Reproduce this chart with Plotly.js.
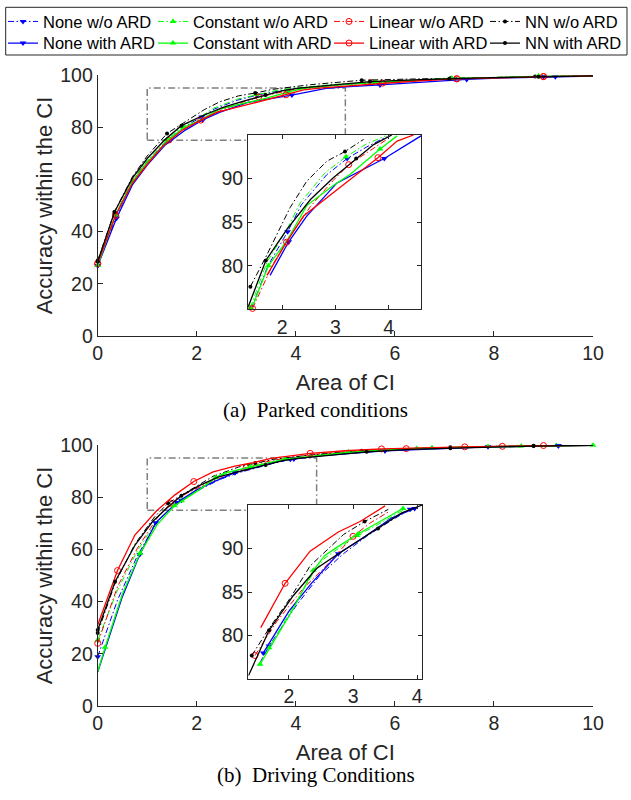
<!DOCTYPE html>
<html><head><meta charset="utf-8">
<script src="https://cdn.plot.ly/plotly-3.0.1.min.js"></script>
<style>html,body{margin:0;padding:0;background:#fff}#chart{width:631px;height:800px}</style>
</head><body><div id="chart"></div>
<script>
// ---------- labels & ticks ----------
const seriesNames = ['None w/o ARD','Constant w/o ARD','Linear w/o ARD','NN w/o ARD',
                     'None with ARD','Constant with ARD','Linear with ARD','NN with ARD'];
const xTicks = [0,2,4,6,8,10];
const yTicks = [0,20,40,60,80,100];
const insetXTicks = [2,3,4];
const insetYTicks = [80,85,90];
const xTitle = 'Area of CI';
const yTitle = 'Accuracy within the CI';
const captionA = '(a)\u00A0\u00A0Parked conditions';
const captionB = '(b)\u00A0\u00A0Driving Conditions';

// ---------- (a) Parked conditions ----------
const parkedNoneWoX = [0,0.37,0.7,1.0,1.42,1.73,2.1,2.36,2.83,3.22,3.58,3.96,4.75,5.65,6.5,7.2,8.0,9.0,10];
const parkedNoneWoY = [27.0,45.5,59.3,66.8,75.1,80.0,83.9,87.0,90.4,92.3,93.6,94.8,96.2,97.0,97.9,98.6,99.0,99.4,99.7];
const parkedNoneWoM = [0,1,6,9,13,15,17];

const parkedConstWoX = [0,0.36,0.7,1.0,1.40,1.71,2.09,2.34,2.81,3.20,3.56,3.94,4.7,5.6,6.5,7.15,8.0,8.9,10];
const parkedConstWoY = [27.2,46.4,59.8,67.2,75.2,80.4,84.2,87.25,90.7,92.5,93.9,94.9,96.3,97.3,98.0,98.8,99.1,99.5,99.7];
const parkedConstWoM = [0,1,4,9,13,15,17];

const parkedLinWoX = [0,0.36,0.7,1.0,1.44,1.81,2.09,2.53,2.96,3.25,3.6,3.97,4.8,5.53,6.5,7.25,8.0,9.0,10];
const parkedLinWoY = [27.8,46.5,59.5,66.8,75.1,80.0,82.9,86.8,89.8,91.6,93.0,94.5,96.1,97.1,97.9,98.6,99.0,99.4,99.7];
const parkedLinWoM = [0,1,4,9,13,15,17];

const parkedNNWoX = [0,0.34,0.7,1.0,1.40,1.69,2.15,2.46,2.84,3.18,3.53,4.3,5.33,6.2,7.12,8.0,8.83,10];
const parkedNNWoY = [28.9,47.6,61.0,69.0,77.6,81.0,86.7,89.7,92.0,93.1,94.5,96.3,98.0,98.4,98.8,99.1,99.4,99.7];
const parkedNNWoM = [0,1,4,9,12,14,16];

const parkedNoneWithX = [0,0.38,0.7,1.0,1.35,1.77,2.12,2.46,3.03,3.92,4.61,5.0,5.7,6.5,7.45,8.2,9.24,10];
const parkedNoneWithY = [26.9,45.1,57.9,65.5,73.0,78.9,82.75,85.7,89.5,92.3,94.9,95.5,96.2,97.2,98.3,98.9,99.3,99.6];
const parkedNoneWithM = [0,1,6,9,12,14,16];

const parkedConstWithX = [0,0.36,0.7,1.0,1.45,1.74,2.09,2.46,2.96,3.28,3.84,4.16,4.9,5.6,6.5,7.15,8.0,8.9,10];
const parkedConstWithY = [27.0,46.4,59.0,66.5,75.5,80.0,82.9,86.9,89.2,90.5,93.4,94.9,96.2,97.2,98.0,98.7,99.0,99.5,99.7];
const parkedConstWithM = [0,1,5,10,13,15,17];

const parkedLinWithX = [0,0.36,0.7,1.0,1.3,1.71,2.08,2.40,3.1,3.8,4.16,4.47,5.0,5.75,6.5,7.25,8.0,9.0,10];
const parkedLinWithY = [27.8,46.2,58.5,65.8,72.5,78.9,82.7,85.7,89.0,92.4,94.3,95.0,95.8,96.9,97.8,98.5,99.0,99.4,99.7];
const parkedLinWithM = [0,1,6,9,13,15,17];

const parkedNNWithX = [0,0.34,0.7,1.0,1.36,1.69,2.09,2.53,2.96,3.39,3.72,4.06,4.8,5.5,6.5,7.1,8.0,8.9,10];
const parkedNNWithY = [28.5,47.5,60.5,68.0,75.3,80.6,84.2,87.6,90.1,92.3,93.9,95.0,96.4,97.5,98.2,98.6,99.0,99.3,99.7];
const parkedNNWithM = [0,1,5,9,13,15,17];

// ---------- (b) Driving Conditions ----------
const drivingNoneWoX = [0,0.4,0.8,1.2,1.55,1.69,2.12,2.48,2.85,3.21,3.57,3.89,4.67,5.8,7.05,7.88,9.3,10];
const drivingNoneWoY = [18.9,40.6,57.5,70.8,76.9,78.8,83.5,86.9,89.4,91.4,93.1,94.5,96.2,97.9,98.9,99.3,99.7,99.9];
const drivingNoneWoM = [0,5,11,13,15,16];

const drivingConstWoX = [0,0.4,0.8,1.2,1.52,1.69,2.07,2.38,2.56,3.06,3.4,3.78,4.2,5.06,5.8,6.44,7.17,7.88,8.55,9.26,10];
const drivingConstWoY = [25.3,44.4,59.5,71.0,76.5,78.6,83.3,87.2,88.9,91.5,92.8,94.4,95.6,97.3,98.2,98.7,99.1,99.4,99.6,99.8,99.9];
const drivingConstWoM = [0,5,9,13,15,17,19];

const drivingLinWoX = [0,0.4,0.8,1.2,1.47,1.81,2.22,2.54,3.0,3.26,3.55,4.3,5.0,5.73,6.23,7.41,8.17,8.89,10];
const drivingLinWoY = [24.0,45.7,60.4,72.0,77.7,81.6,85.4,87.7,91.4,92.9,94.2,96.3,97.4,98.2,98.6,99.2,99.5,99.7,99.9];
const drivingLinWoM = [0,4,8,14,16];

const drivingNNWoX = [0,0.35,0.75,1.15,1.42,1.68,2.02,2.33,2.85,3.18,3.55,4.3,5.33,6.2,7.12,8.0,8.8,10];
const drivingNNWoY = [28.0,47.0,62.0,72.5,77.7,80.7,84.3,88.0,91.6,93.1,94.5,96.2,97.8,98.6,99.1,99.5,99.7,99.9];
const drivingNNWoM = [0,4,9,12,14,16];

const drivingNoneWithX = [0,0.15,0.5,0.85,1.17,1.6,2.0,2.35,2.77,3.13,3.60,3.96,4.5,5.8,7.05,7.88,9.3,10];
const drivingNoneWithY = [13.0,21.5,42.0,58.0,70.2,78.0,82.8,86.0,89.4,91.1,93.5,94.6,95.9,97.8,98.8,99.3,99.7,99.9];
const drivingNoneWithM = [3,4,5,8,11,13,16];

const drivingConstWithX = [0,0.15,0.5,0.855,1.2,1.55,1.69,2.07,2.38,2.56,2.74,3.08,3.37,3.78,4.1,5.06,6.0,6.75,7.5,8.55,9.3,10];
const drivingConstWithY = [13.2,22.5,43.0,58.5,69.5,76.7,78.4,83.1,87.5,89.2,90.1,91.7,92.9,94.6,95.2,97.2,98.3,98.9,99.2,99.6,99.8,99.9];
const drivingConstWithM = [1,3,5,8,11,13,15,17,19,21];

const drivingLinWithX = [0,0.40,0.75,1.19,1.56,1.94,2.33,2.77,3.11,3.50,4.29,5.0,5.73,6.6,7.41,8.3,9.0,10];
const drivingLinWithY = [31.0,51.9,65.5,74.8,80.9,86.0,89.7,91.9,93.1,94.9,96.8,97.8,98.5,99.0,99.3,99.6,99.8,99.9];
const drivingLinWithM = [1,5,10,12,14,16];

const drivingNNWithX = [0,0.35,0.75,1.1,1.37,1.69,2.07,2.43,2.77,3.39,3.76,4.08,4.7,5.43,6.3,7.12,8.0,8.8,10];
const drivingNNWithY = [29.1,47.6,61.5,70.5,75.4,80.6,84.6,87.7,89.4,92.3,94.1,95.0,96.2,97.4,98.3,98.8,99.3,99.6,99.9];
const drivingNNWithM = [0,1,5,9,13,15,17];

// ---------- styles ----------
const DD = '6px,2.5px,1.5px,2.5px';
const styles = [
  {color:'#0000ff', dash:DD, w:1, symbol:'triangle-down', size:6},
  {color:'#00ff00', dash:DD, w:1, symbol:'triangle-up', size:6},
  {color:'#ff0000', dash:DD, w:1, symbol:'circle-open', size:6},
  {color:'#000000', dash:DD, w:1, symbol:'circle', size:4},
  {color:'#0000ff', dash:'solid', w:1.3, symbol:'triangle-down', size:6},
  {color:'#00ff00', dash:'solid', w:1.3, symbol:'triangle-up', size:6},
  {color:'#ff0000', dash:'solid', w:1.3, symbol:'circle-open', size:6},
  {color:'#000000', dash:'solid', w:1.3, symbol:'circle', size:4}
];
const parked = [
  [parkedNoneWoX,parkedNoneWoY,parkedNoneWoM],[parkedConstWoX,parkedConstWoY,parkedConstWoM],
  [parkedLinWoX,parkedLinWoY,parkedLinWoM],[parkedNNWoX,parkedNNWoY,parkedNNWoM],
  [parkedNoneWithX,parkedNoneWithY,parkedNoneWithM],[parkedConstWithX,parkedConstWithY,parkedConstWithM],
  [parkedLinWithX,parkedLinWithY,parkedLinWithM],[parkedNNWithX,parkedNNWithY,parkedNNWithM]
];
const driving = [
  [drivingNoneWoX,drivingNoneWoY,drivingNoneWoM],[drivingConstWoX,drivingConstWoY,drivingConstWoM],
  [drivingLinWoX,drivingLinWoY,drivingLinWoM],[drivingNNWoX,drivingNNWoY,drivingNNWoM],
  [drivingNoneWithX,drivingNoneWithY,drivingNoneWithM],[drivingConstWithX,drivingConstWithY,drivingConstWithM],
  [drivingLinWithX,drivingLinWithY,drivingLinWithM],[drivingNNWithX,drivingNNWithY,drivingNNWithM]
];
const drawOrder = [0,1,2,3,4,5,6,7];

const W = 631, H = 800;
const px = v => v / W, py = v => 1 - v / H;
const ZOOM_Y = [75, 95];
const insetTopX = [1.355, 4.61];
const insetBotX = [1.366, 4.08];

const traces = [];
function markerOf(st){
  return {symbol: st.symbol, size: st.size, color: st.color,
          line: {color: st.color, width: st.symbol === 'circle-open' ? 1 : 0}};
}
function addSeries(d, st, xa, ya, xr, yr){
  let xs = d[0], ys = d[1], mk = d[2];
  let keep = xs.map((x,i)=> !xr || (x >= xr[0] && x <= xr[1] && ys[i] >= yr[0] && ys[i] <= yr[1]));
  const lx = xs.filter((_,i)=>keep[i]), ly = ys.filter((_,i)=>keep[i]);
  const mi = mk.filter(i=>keep[i]);
  traces.push({type:'scatter', mode:'lines', x:lx, y:ly, xaxis:xa, yaxis:ya,
    line:{color:st.color, width:st.w, dash:st.dash}, showlegend:false, hoverinfo:'skip'});
  traces.push({type:'scatter', mode:'markers', x:mi.map(i=>xs[i]), y:mi.map(i=>ys[i]),
    xaxis:xa, yaxis:ya, marker:markerOf(st), cliponaxis:false, showlegend:false, hoverinfo:'skip'});
}
drawOrder.forEach(k=>addSeries(parked[k], styles[k], 'x', 'y'));
drawOrder.forEach(k=>addSeries(driving[k], styles[k], 'x2', 'y2'));
drawOrder.forEach(k=>addSeries(parked[k], styles[k], 'x3', 'y3', insetTopX, ZOOM_Y));
drawOrder.forEach(k=>addSeries(driving[k], styles[k], 'x4', 'y4', insetBotX, ZOOM_Y));

// legend entries (one legend per entry, laid out in 4 columns x 2 rows)
const LEGFONT = {family:'Liberation Sans, Arial, sans-serif', size:16.5, color:'#000'};
const colPx = [3, 153, 329, 485];
const rowPx = [21.7, 43.3];
const legends = {};
seriesNames.forEach((name,k)=>{
  const id = k === 0 ? 'legend' : 'legend' + (k+1);
  const st = styles[k];
  traces.push({type:'scatter', mode:'lines+markers', name:name, x:[null], y:[null],
    xaxis:'x', yaxis:'y', legend:id, showlegend:true,
    line:{color:st.color, width:st.w, dash:st.dash}, marker:markerOf(st)});
  legends[id] = {x:px(colPx[k%4]), y:py(rowPx[Math.floor(k/4)]), xanchor:'left', yanchor:'middle',
    bgcolor:'rgba(0,0,0,0)', borderwidth:0, font:LEGFONT, itemwidth:30, orientation:'v'};
});

const AX = '#262626';
const tickFont = {family:'Liberation Sans, Arial, sans-serif', size:19.5, color:AX};
const titleFont = {family:'Liberation Sans, Arial, sans-serif', size:22, color:AX};
function mainX(anchor, title){
  return {domain:[px(97.7), px(593)], range:[0,10], anchor:anchor, tickvals:xTicks,
    ticks:'inside', ticklen:5, tickcolor:AX, showline:true, linecolor:AX, linewidth:1,
    showgrid:false, zeroline:false, tickfont:tickFont, fixedrange:true,
    title:{text:title, font:titleFont, standoff:11}};
}
function mainY(anchor, dom){
  return {domain:dom, range:[0,100], anchor:anchor, tickvals:yTicks,
    ticks:'inside', ticklen:5, tickcolor:AX, showline:true, linecolor:AX, linewidth:1,
    showgrid:false, zeroline:false, tickfont:tickFont, fixedrange:true,
    title:{text:yTitle, font:titleFont, standoff:1}};
}
function insetX(anchor, dom, rng){
  return {domain:dom, range:rng, anchor:anchor, tickvals:insetXTicks,
    ticks:'inside', ticklen:4, tickcolor:AX, showline:true, mirror:'allticks', linecolor:AX, linewidth:1,
    showgrid:false, zeroline:false, tickfont:tickFont, fixedrange:true};
}
function insetY(anchor, dom){
  return {domain:dom, range:ZOOM_Y, anchor:anchor, tickvals:insetYTicks,
    ticks:'inside', ticklen:4, tickcolor:AX, showline:true, mirror:'allticks', linecolor:AX, linewidth:1,
    showgrid:false, zeroline:false, tickfont:tickFont, fixedrange:true};
}

const boxLine = {color:'#808080', width:1.5, dash:'7px,3px,1.5px,3px'};
const capFont = {family:'Liberation Serif, Times New Roman, serif', size:21, color:'#000'};
const layout = Object.assign({
  width:W, height:H, margin:{l:0,r:0,t:0,b:0},
  paper_bgcolor:'#fff', plot_bgcolor:'#fff',
  font:{family:'Liberation Sans, Arial, sans-serif', color:AX},
  xaxis: mainX('y', xTitle),
  yaxis: mainY('x', [py(336), py(75)]),
  xaxis2: mainX('y2', xTitle),
  yaxis2: mainY('x2', [py(706), py(445)]),
  xaxis3: insetX('y3', [px(248), px(421)], insetTopX),
  yaxis3: insetY('x3', [py(309.3), py(135)]),
  xaxis4: insetX('y4', [px(248.3), px(422.3)], insetBotX),
  yaxis4: insetY('x4', [py(679), py(505)]),
  shapes:[
    {type:'rect', xref:'x', yref:'y', x0:1, x1:5, y0:ZOOM_Y[0], y1:ZOOM_Y[1], line:boxLine, layer:'below'},
    {type:'rect', xref:'x2', yref:'y2', x0:1, x1:4.42, y0:ZOOM_Y[0], y1:ZOOM_Y[1], line:boxLine, layer:'below'},
    {type:'rect', xref:'paper', yref:'paper', x0:px(5.7), x1:px(627), y0:py(55), y1:py(7.3),
     line:{color:AX, width:1}, fillcolor:'rgba(0,0,0,0)'}
  ],
  annotations:[
    {xref:'paper', yref:'paper', x:0.5, y:py(410), xanchor:'center', yanchor:'middle',
     text:captionA, showarrow:false, font:capFont},
    {xref:'paper', yref:'paper', x:0.5, y:py(775), xanchor:'center', yanchor:'middle',
     text:captionB, showarrow:false, font:capFont}
  ]
}, legends);

Plotly.newPlot('chart', traces, layout, {displayModeBar:false, staticPlot:true});
</script>
</body></html>
